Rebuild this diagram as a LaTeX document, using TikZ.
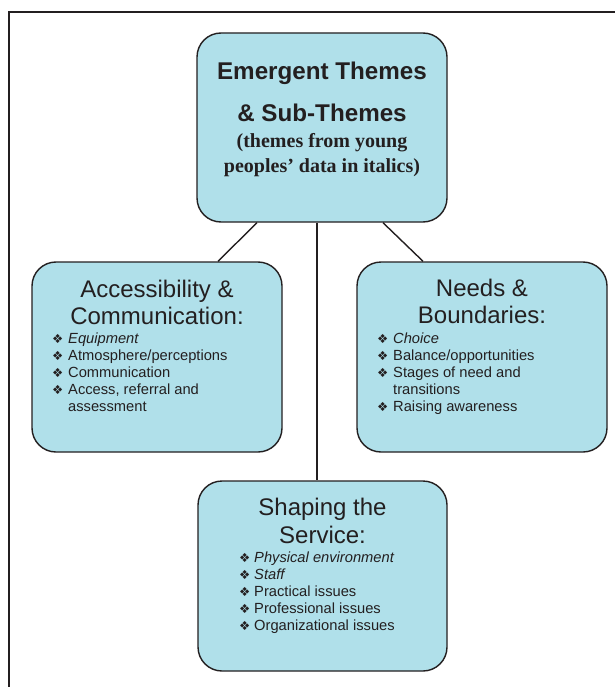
\documentclass[tikz,border=0pt]{standalone}
\usepackage{fontspec}
\setmainfont{Liberation Sans}
\newfontfamily\serifb{Liberation Serif}
\newfontfamily\symf{DejaVu Sans}
\definecolor{boxfill}{RGB}{176,224,234}
\definecolor{edge}{RGB}{35,31,32}
\newcommand{\bul}{{\symf\fontsize{12.5}{12.5}\selectfont ❖}}
\begin{document}
\begin{tikzpicture}[x=1pt,y=-1pt,
  themebox/.style={draw=edge,line width=1.4pt,fill=boxfill,rounded corners=24pt,inner sep=0pt},
  conn/.style={draw=edge,line width=1.4pt},
  ttl/.style={anchor=base,inner sep=0pt,font=\fontsize{24}{24}\selectfont,text=edge},
  ttlb/.style={anchor=base,inner sep=0pt,font=\bfseries\fontsize{24.2}{24}\selectfont,text=edge},
  sub/.style={anchor=base,inner sep=0pt,font=\serifb\bfseries\fontsize{20}{20}\selectfont,text=edge},
  itm/.style={anchor=base west,inner sep=0pt,font=\fontsize{14.7}{17}\selectfont,text=edge},
  bl/.style={anchor=base west,inner sep=0pt,text=edge}]
\useasboundingbox (0,0) rectangle (615,687);
\draw[line width=2pt,edge] (9,687) -- (9,12) -- (615,12);
% boxes
\node[themebox,minimum width=250pt,minimum height=189pt] (top) at (322,127.5) {};
\node[themebox,minimum width=250pt,minimum height=190pt] (left) at (157,357) {};
\node[themebox,minimum width=250pt,minimum height=190pt] (right) at (482,357) {};
\node[themebox,minimum width=249pt,minimum height=190pt] (bot) at (322.5,576) {};
% connectors
\draw[conn] ([xshift=-65pt]top.south) -- ([xshift=61pt]left.north);
\draw[conn] ([xshift=61pt]top.south) -- ([xshift=-59pt]right.north);
\draw[conn] ([xshift=-5pt]top.south) -- ([xshift=-5.5pt]bot.north);
% top text
\node[ttlb] (t1) at (322,80) {Emergent Themes};
\node[ttlb] (t2) at (322,122) {\& Sub-Themes};
\node[sub] (t3) at (322,148) {(themes from young};
\node[sub] (t4) at (322,172) {peoples’ data in italics)};
% left
\node[ttl] (l1) at (157,297) {Accessibility \&};
\node[ttl] (l2) at (157,324) {Communication:};
\foreach \y/\n in {343/a,360/b,377/c,394/d} \node[bl] (lb\n) at (52,\y) {\bul};
\node[itm] (li1) at (68,343) {\itshape Equipment};
\node[itm] (li2) at (68,360) {Atmosphere/perceptions};
\node[itm] (li3) at (68,377) {Communication};
\node[itm] (li4) at (68,394) {Access, referral and};
\node[itm] (li5) at (68,411) {assessment};
% right
\node[ttl] (r1) at (482,296) {Needs \&};
\node[ttl] (r2) at (482,323) {Boundaries:};
\foreach \y/\n in {343/a,360/b,377/c,411/d} \node[bl] (rb\n) at (377,\y) {\bul};
\node[itm] (ri1) at (393,343) {\itshape Choice};
\node[itm] (ri2) at (393,360) {Balance/opportunities};
\node[itm] (ri3) at (393,377) {Stages of need and};
\node[itm] (ri4) at (393,394) {transitions};
\node[itm] (ri5) at (393,411) {Raising awareness};
% bottom
\node[ttl] (s1) at (322.5,515) {Shaping the};
\node[ttl] (s2) at (322.5,543) {Service:};
\foreach \y/\n in {562/a,579/b,596/c,613/d,630/e} \node[bl] (sb\n) at (239,\y) {\bul};
\node[itm] (si1) at (254,562) {\itshape Physical environment};
\node[itm] (si2) at (254,579) {\itshape Staff};
\node[itm] (si3) at (254,596) {Practical issues};
\node[itm] (si4) at (254,613) {Professional issues};
\node[itm] (si5) at (254,630) {Organizational issues};
\end{tikzpicture}
\end{document}
